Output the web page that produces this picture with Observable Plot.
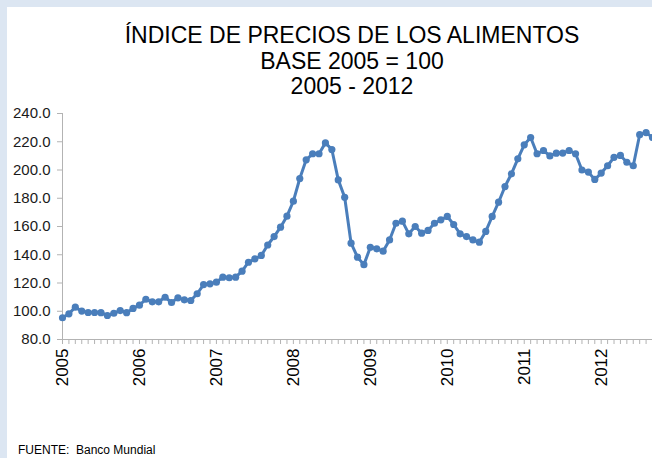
<!DOCTYPE html>
<html>
<head>
<meta charset="utf-8">
<script src="https://cdn.jsdelivr.net/npm/d3@7"></script>
<script src="https://cdn.jsdelivr.net/npm/@observablehq/plot@0.6"></script>
<style>
  html, body { margin: 0; padding: 0; width: 652px; height: 458px; overflow: hidden; background: #dce6f2; font-family: "Liberation Sans", Arial, sans-serif; }
  #panel { position: absolute; left: 7px; top: 7px; right: 0; bottom: 0; background: #ffffff; }
  #title { position: absolute; left: 52px; width: 600px; top: 23px; text-align: center; font-size: 23px; line-height: 25.5px; color: #000; }
  #chart { position: absolute; left: 0; top: 100px; }
  #caption { position: absolute; left: 18px; top: 443px; font-size: 12px; line-height: 14px; color: #000; white-space: nowrap; }
</style>
</head>
<body>
<div id="panel"></div>
<div id="title">ÍNDICE DE PRECIOS DE LOS ALIMENTOS<br>BASE 2005 = 100<br>2005 - 2012</div>
<div id="chart"></div>
<div id="caption">FUENTE:&nbsp; Banco Mundial</div>
<script>
// Monthly food price index (base 2005 = 100), January 2005 onwards
const yearLabels = ["2005", "2006", "2007", "2008", "2009", "2010", "2011", "2012"];
const v2005 = [95.4, 98.2, 102.9, 100.1, 99.1, 99.1, 99.0, 97.0, 98.6, 100.5, 99.0, 102.0];
const v2006 = [104.3, 108.5, 106.7, 106.7, 109.9, 106.2, 109.5, 108.1, 107.6, 112.4, 118.9, 119.4];
const v2007 = [120.6, 124.1, 123.7, 124.1, 128.4, 134.7, 137.1, 139.5, 146.9, 152.9, 159.5, 167.3];
const v2008 = [177.9, 194.0, 207.2, 211.5, 211.5, 219.2, 214.5, 193.0, 180.7, 148.2, 138.3, 133.0];
const v2009 = [145.3, 144.2, 142.5, 150.5, 162.3, 163.8, 154.8, 160.0, 155.3, 157.2, 162.3, 164.7];
const v2010 = [167.1, 161.4, 154.8, 152.9, 150.5, 148.9, 156.5, 167.1, 177.2, 188.3, 197.3, 207.9];
const v2011 = [217.8, 223.0, 211.5, 213.8, 210.0, 211.9, 212.0, 213.8, 211.5, 200.0, 198.5, 193.3];
const v2012 = [197.8, 203.0, 209.0, 210.3, 205.5, 203.0, 225.0, 226.5, 223.0];
const yTicks = [80, 100, 120, 140, 160, 180, 200, 220, 240];

const series = [v2005, v2006, v2007, v2008, v2009, v2010, v2011, v2012];
const data = series.flatMap((arr, yi) => arr.map((v, m) => ({i: yi * 12 + m, v})));
const monthTicks = data.map(d => d.i);
const yearTicks = yearLabels.map((_, k) => k * 12);

const blue = "#4a7ebb";
const axisGray = "#b3b3b3";

const chart = Plot.plot({
  width: 652,
  height: 300,
  marginLeft: 62,
  marginRight: 0,
  marginTop: 13,
  marginBottom: 61,
  style: {fontFamily: "'Liberation Sans', Arial, sans-serif", background: "transparent", overflow: "hidden"},
  x: {domain: [0, 92]},
  y: {domain: [80, 240]},
  marks: [
    Plot.axisY({ticks: yTicks, tickFormat: d3.format(".1f"), tickSize: 5, tickPadding: 7, stroke: axisGray, fill: "#1a1a1a", fontSize: 15, label: null}),
    Plot.axisX({ticks: monthTicks, tickSize: 5, tickFormat: () => "", stroke: axisGray, label: null}),
    Plot.axisX({ticks: yearTicks, tickSize: 0, tickPadding: 9, tickRotate: -90, tickFormat: d => yearLabels[d / 12], fill: "#000", fontSize: 17, label: null}),
    Plot.ruleX([0], {stroke: axisGray}),
    Plot.ruleY([80], {stroke: axisGray}),
    Plot.line(data, {x: "i", y: "v", stroke: blue, strokeWidth: 3}),
    Plot.dot(data, {x: "i", y: "v", r: 3.6, fill: blue, stroke: null})
  ]
});
document.getElementById("chart").append(chart);
</script>
</body>
</html>
